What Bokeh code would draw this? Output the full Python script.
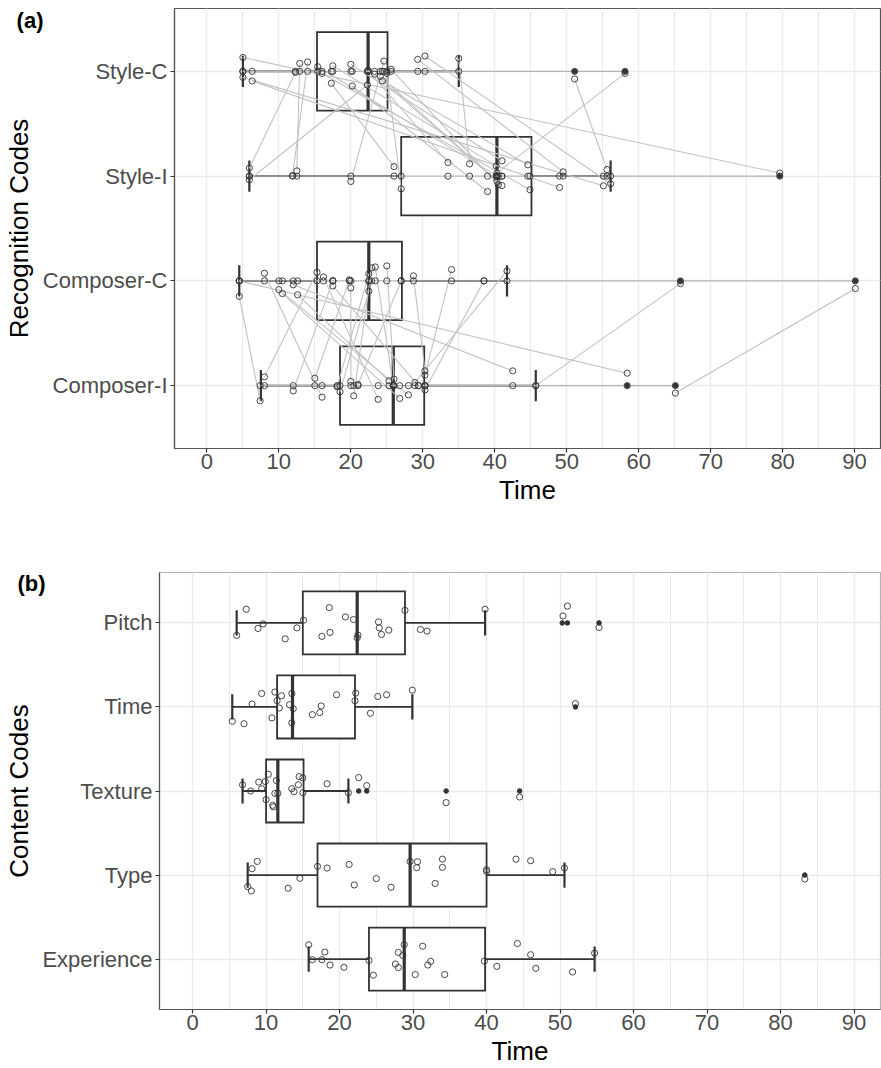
from bokeh.plotting import figure
from bokeh.models import Range1d, SingleIntervalTicker, FixedTicker, LinearAxis
from bokeh.embed import file_html
from bokeh.resources import INLINE

FONT = "Liberation Sans"
BOX = "#333333"
GRID = "#ebebeb"
PAIR = "#c2c2c2"

# ---------------- Panel (a): Recognition codes (bottom -> top) ----------------
rec_codes = ["Composer-I", "Composer-C", "Style-I", "Style-C"]
rec_q1 = [18.5, 15.3, 27.0, 15.3]
rec_med = [25.9, 22.5, 40.3, 22.4]
rec_q3 = [30.2, 27.1, 45.1, 25.1]
rec_lo = [7.5, 4.5, 5.9, 5.0]
rec_hi = [45.7, 41.7, 56.1, 35.0]
rec_outliers = [[58.4, 65.1], [65.8, 90.1], [79.6], [51.1, 58.1]]

# paired participants: Style-C <-> Style-I
style_c = [5.0, 5.0, 6.3, 12.3, 12.9, 14.0, 15.4, 16.0, 17.3, 17.5, 20.0, 20.2, 22.3,
           22.4, 23.3, 24.1, 24.4, 24.6, 25.0, 25.6, 29.3, 30.3, 35.0, 51.1, 58.1]
style_c_jit = [0.133, -0.057, -0.092, -0.01, 0.076, 0.089, 0.044, -0.02, -0.114, 0.053,
               0.067, -0.14, -0.13, 0.01, -0.026, -0.05, -0.09, 0.098, -0.019, 0.02,
               0.114, 0.146, 0.124, -0.073, -0.019]
style_i = [79.6, 55.1, 49.0, 5.9, 12.5, 11.9, 40.3, 44.9, 26.0, 40.2, 41.0, 39.0, 5.9,
           33.5, 40.3, 41.0, 44.6, 20.0, 27.0, 40.5, 49.5, 56.1, 36.5, 55.6, 40.3]
style_i_jit = [0.029, -0.092, -0.109, 0.076, 0.05, 0.005, 0.0, -0.13, 0.091, 0.098,
               0.146, -0.147, -0.035, 0.13, -0.05, -0.09, 0.108, -0.051, -0.121, -0.083,
               0.041, -0.073, 0.117, 0.063, 0.03]

# paired participants: Composer-C <-> Composer-I
composer_c = [4.5, 4.5, 8.0, 10.0, 10.5, 12.0, 12.6, 15.3, 16.2, 17.5, 17.5, 19.8, 20.0,
              22.5, 22.9, 22.5, 23.4, 25.0, 27.0, 28.7, 34.0, 38.5, 41.7, 65.8, 90.1]
composer_c_jit = [-0.147, 0.0, 0.072, -0.083, -0.121, -0.038, -0.133, 0.082, 0.038, 0.0,
                  -0.048, 0.01, -0.067, 0.067, 0.124, -0.099, 0.133, 0.143, 0.0, 0.048,
                  0.108, 0.0, 0.095, -0.026, -0.073]
composer_i = [7.4, 58.4, 16.0, 28.0, 26.8, 42.5, 25.3, 8.0, 23.8, 12.0, 29.4, 15.0, 20.0,
              18.1, 20.4, 18.5, 25.9, 26.0, 21.0, 30.3, 30.3, 30.3, 28.9, 45.7, 65.1]
composer_i_jit = [-0.145, 0.119, -0.11, -0.088, -0.122, 0.141, 0.046, 0.084, -0.131, -0.05,
                  0.0, 0.071, 0.04, -0.011, -0.097, -0.059, 0.0, 0.062, 0.011, 0.141,
                  0.1, -0.04, 0.03, 0.0, -0.071]

# ---------------- Panel (b): Content codes (bottom -> top) ----------------
content_codes = ["Experience", "Type", "Texture", "Time", "Pitch"]
con_q1 = [24.0, 17.0, 10.0, 11.5, 15.0]
con_med = [28.8, 29.6, 11.6, 13.6, 22.4]
con_q3 = [39.8, 40.0, 15.1, 22.1, 28.9]
con_lo = [15.8, 7.5, 6.8, 5.4, 6.0]
con_hi = [54.7, 50.6, 21.2, 29.9, 39.8]
con_outliers = [[], [83.3], [22.6, 23.7, 34.5, 44.5], [52.1], [50.3, 51.0, 55.3]]

experience_vals = [15.8, 16.3, 17.6, 18.0, 18.7, 20.6, 24.0, 24.6, 27.6, 28.0, 28.0, 28.6, 28.8,
                   30.3, 31.3, 32.0, 32.4, 34.3, 39.7, 41.4, 44.2, 46.0, 46.7, 51.7, 54.7]
experience_jit = [0.17, -0.007, -0.007, 0.083, -0.071, -0.098, -0.015, -0.192, -0.059, -0.101,
                  0.079, 0.044, 0.173, -0.184, 0.153, -0.071, -0.027, -0.184, -0.024, -0.087,
                  0.185, 0.052, -0.11, -0.153, 0.071]
type_vals = [7.5, 8.0, 8.1, 8.8, 13.0, 14.6, 17.0, 18.3, 21.3, 22.0, 25.0, 27.0, 29.6, 30.6,
             30.5, 34.0, 34.0, 33.0, 40.0, 40.0, 44.0, 46.0, 49.0, 50.6, 83.3]
type_jit = [-0.137, -0.189, 0.075, 0.162, -0.157, -0.039, 0.103, 0.083, 0.126, -0.118, -0.042,
            -0.145, 0.162, 0.158, 0.087, 0.189, 0.091, -0.101, 0.064, 0.044, 0.189, 0.17,
            0.04, 0.083, -0.047]
texture_vals = [6.8, 7.9, 9.0, 9.4, 9.9, 10.3, 10.0, 10.9, 11.0, 11.4, 11.2, 11.6, 13.5, 13.8,
                14.4, 14.5, 15.0, 15.0, 18.3, 21.2, 22.6, 23.7, 34.5, 44.5]
texture_jit = [0.074, 0.0, 0.106, 0.027, 0.113, 0.2, -0.103, -0.17, -0.189, 0.125, -0.028,
               -0.028, 0.027, -0.008, 0.074, 0.172, 0.157, -0.02, 0.086, -0.02, 0.16, 0.063,
               -0.138, -0.071]
time_vals = [5.4, 7.0, 8.1, 9.4, 10.8, 11.2, 11.5, 11.8, 12.1, 13.2, 13.5, 13.7, 13.5, 16.3,
             17.3, 17.5, 19.6, 22.1, 22.2, 24.2, 25.2, 26.4, 29.9, 52.1]
time_jit = [-0.17, -0.2, 0.035, 0.16, -0.13, 0.177, 0.074, -0.012, 0.133, 0.027, 0.16, -0.02,
            -0.189, -0.091, -0.067, 0.012, 0.145, 0.074, 0.165, -0.075, 0.125, 0.145, 0.2, 0.039]
pitch_vals = [7.3, 8.9, 9.6, 6.0, 12.6, 14.2, 15.1, 17.6, 18.7, 18.6, 20.8, 21.9, 22.4, 22.5,
              25.3, 25.4, 25.7, 26.7, 28.9, 31.0, 31.9, 39.8, 51.0, 50.4, 55.3]
pitch_jit = [0.162, -0.066, -0.012, -0.149, -0.189, -0.059, 0.032, -0.16, -0.113, 0.182, 0.071,
             0.04, -0.177, -0.145, 0.012, -0.059, -0.137, -0.086, 0.15, -0.078, -0.098, 0.162,
             0.2, 0.083, -0.054]


def make_fig(codes, ylabel, panel_tag, tag_y, height, frame_top, border_bottom,
             border_left, outline_color, tag_standoff, title_standoff):
    p = figure(width=881, height=height, output_backend="svg", toolbar_location=None,
               x_range=Range1d(-4.5, 93.6), y_range=Range1d(0.4, len(codes) + 0.6),
               min_border_left=border_left, min_border_right=1,
               min_border_top=frame_top, min_border_bottom=border_bottom)
    p.background_fill_color = "white"
    p.border_fill_color = "white"
    p.outline_line_color = outline_color
    p.outline_line_width = 1.2
    p.xaxis.ticker = SingleIntervalTicker(interval=10, num_minor_ticks=2)
    p.yaxis.ticker = FixedTicker(ticks=list(range(1, len(codes) + 1)), minor_ticks=[])
    p.yaxis.major_label_overrides = {i + 1: c for i, c in enumerate(codes)}
    p.xgrid.grid_line_color = GRID
    p.xgrid.grid_line_width = 1.4
    p.xgrid.minor_grid_line_color = GRID
    p.xgrid.minor_grid_line_width = 1.0
    p.ygrid.grid_line_color = GRID
    p.ygrid.grid_line_width = 1.4
    for ax in (p.xaxis[0], p.yaxis[0]):
        ax.axis_line_color = "#555555"
        ax.axis_line_width = 1.2
        ax.major_tick_in = 0
        ax.major_tick_out = 4
        ax.major_tick_line_color = "#333333"
        ax.major_tick_line_width = 1.2
        ax.minor_tick_line_color = None
        ax.major_label_text_font = FONT
        ax.major_label_text_font_size = "22px"
        ax.major_label_text_color = "#4d4d4d"
        ax.axis_label_text_font = FONT
        ax.axis_label_text_font_size = "26px"
        ax.axis_label_text_font_style = "normal"
        ax.axis_label_text_color = "black"
    p.xaxis.major_label_standoff = 1
    p.yaxis.major_label_standoff = 3
    p.xaxis.axis_label = "Time"
    p.xaxis.axis_label_standoff = 3

    # outer left axis: carries the panel tag "(a)"/"(b)" and the y title
    outer = LinearAxis(ticker=FixedTicker(ticks=[tag_y], minor_ticks=[]),
                       major_label_overrides={tag_y: panel_tag},
                       axis_label=ylabel)
    outer.axis_line_color = None
    outer.major_tick_line_color = None
    outer.minor_tick_line_color = None
    outer.major_tick_in = 0
    outer.major_tick_out = 0
    outer.major_label_standoff = tag_standoff
    outer.major_label_text_font = FONT
    outer.major_label_text_font_size = "22px"
    outer.major_label_text_font_style = "bold"
    outer.major_label_text_color = "black"
    outer.axis_label_text_font = FONT
    outer.axis_label_text_font_size = "26px"
    outer.axis_label_text_font_style = "normal"
    outer.axis_label_text_color = "black"
    outer.axis_label_standoff = title_standoff
    p.add_layout(outer, "left")
    return p


def draw_boxes(p, q1, med, q3, lo, hi):
    ys = list(range(1, len(q1) + 1))
    p.segment(x0=lo, y0=ys, x1=q1, y1=ys, line_color=BOX, line_width=1.8)
    p.segment(x0=q3, y0=ys, x1=hi, y1=ys, line_color=BOX, line_width=1.8)
    p.segment(x0=lo, y0=[y - 0.15 for y in ys], x1=lo, y1=[y + 0.15 for y in ys],
              line_color=BOX, line_width=2.2)
    p.segment(x0=hi, y0=[y - 0.15 for y in ys], x1=hi, y1=[y + 0.15 for y in ys],
              line_color=BOX, line_width=2.2)
    p.hbar(y=ys, height=0.75, left=q1, right=q3, fill_color="white",
           line_color=BOX, line_width=1.8, line_join="miter")
    p.segment(x0=med, y0=[y - 0.375 for y in ys], x1=med, y1=[y + 0.375 for y in ys],
              line_color=BOX, line_width=3.2)


def draw_outliers(p, outliers):
    ox, oy = [], []
    for k, vals in enumerate(outliers):
        ox += vals
        oy += [k + 1] * len(vals)
    p.scatter(x=ox, y=oy, size=4.6, marker="circle", fill_color="#333333",
              line_color="#333333")


def open_points(p, xs, ys):
    p.scatter(x=xs, y=ys, size=6.2, marker="circle", fill_color=None,
              line_color="#333333", line_width=0.9)


# ---------------- figure (a) ----------------
pa = make_fig(rec_codes, "Recognition Codes", "(a)", 4.49, 513, 8, 65, 174,
              "#555555", -4, -20)
draw_boxes(pa, rec_q1, rec_med, rec_q3, rec_lo, rec_hi)

pairs = [(style_c, style_c_jit, 4, style_i, style_i_jit, 3),
         (composer_c, composer_c_jit, 2, composer_i, composer_i_jit, 1)]
for cv, cj, cy, iv, ij, iy in pairs:
    pa.segment(x0=[min(cv), min(iv)], y0=[cy, iy], x1=[max(cv), max(iv)], y1=[cy, iy],
               line_color="#b5b5b5", line_width=1.4)
    pa.segment(x0=cv, y0=[cy + j for j in cj], x1=iv, y1=[iy + j for j in ij],
               line_color=PAIR, line_width=1.1)
draw_outliers(pa, rec_outliers)
for cv, cj, cy, iv, ij, iy in pairs:
    open_points(pa, cv, [cy] * len(cv))
    open_points(pa, iv, [iy] * len(iv))
    open_points(pa, cv, [cy + j for j in cj])
    open_points(pa, iv, [iy + j for j in ij])

# ---------------- figure (b) ----------------
pb = make_fig(content_codes, "Content Codes", "(b)", 5.474, 555, 59, 56, 159,
              "#b3b3b3", -6, -20)
draw_boxes(pb, con_q1, con_med, con_q3, con_lo, con_hi)
draw_outliers(pb, con_outliers)
groups = [experience_vals, type_vals, texture_vals, time_vals, pitch_vals]
jits = [experience_jit, type_jit, texture_jit, time_jit, pitch_jit]
for k, (vals, jit) in enumerate(zip(groups, jits)):
    open_points(pb, vals, [k + 1 + j for j in jit])

# two independent roots, stacked; frames are not aligned to each other
open("out.html", "w").write(file_html([pa, pb], INLINE))
